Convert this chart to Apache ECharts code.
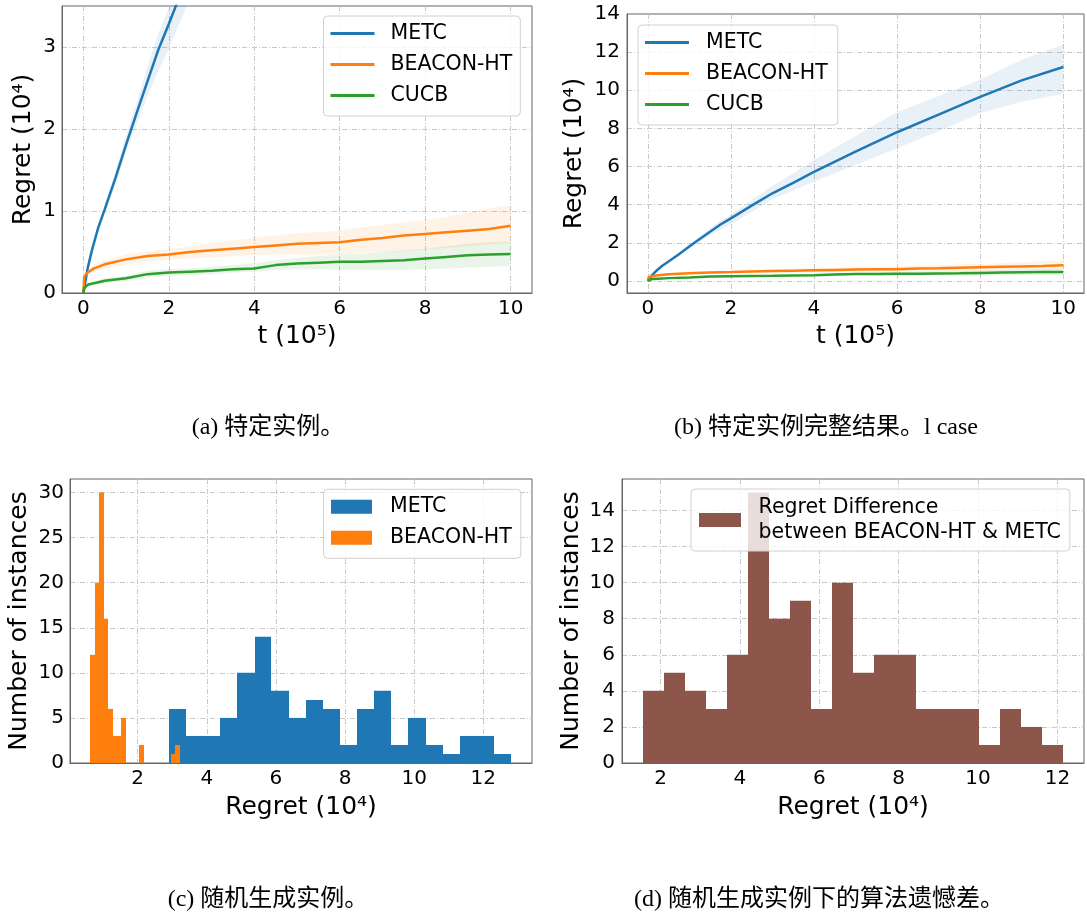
<!DOCTYPE html>
<html><head><meta charset="utf-8">
<script src="https://cdn.jsdelivr.net/npm/echarts@6/dist/echarts.min.js"></script>
<style>html,body{margin:0;padding:0;background:#fff}#main{width:1087px;height:915px}</style>
</head><body><div id="main"></div>
<script>
// ---------- (a)/(b) cumulative regret curves (t in 1e5, regret in 1e4) ----------
const metcT    = [0, 0.05, 0.1, 0.2, 0.35, 0.5, 0.75, 1, 1.25, 1.5, 1.75, 2, 2.5, 3, 3.5, 4, 5, 6, 7, 8, 9, 10];
const metcMean = [0, 0.15, 0.3, 0.52, 0.8, 1.02, 1.4, 1.81, 2.2, 2.58, 2.96, 3.28, 3.95, 4.6, 5.15, 5.72, 6.78, 7.8, 8.72, 9.65, 10.52, 11.22];
const metcLow  = [0, 0.14, 0.28, 0.49, 0.76, 0.97, 1.33, 1.72, 2.06, 2.4, 2.7, 2.98, 3.6, 4.3, 4.75, 5.22, 6.08, 6.96, 7.85, 8.8, 9.4, 9.8];
const metcHigh = [0, 0.16, 0.32, 0.55, 0.84, 1.07, 1.48, 1.92, 2.33, 2.76, 3.16, 3.48, 4.25, 5.0, 5.65, 6.35, 7.6, 8.85, 9.7, 10.55, 11.6, 12.4];

const beaconT    = [0, 0.02, 0.1, 0.25, 0.5, 1, 1.5, 2, 2.5, 3, 3.5, 4, 4.5, 5, 5.5, 6, 6.5, 7, 7.5, 8, 8.5, 9, 9.5, 10];
const beaconMean = [0, 0.2, 0.25, 0.3, 0.35, 0.41, 0.45, 0.47, 0.5, 0.52, 0.54, 0.56, 0.58, 0.6, 0.61, 0.62, 0.65, 0.67, 0.7, 0.72, 0.74, 0.76, 0.78, 0.82];
const beaconLow  = [0, 0.18, 0.22, 0.26, 0.3, 0.35, 0.38, 0.41, 0.42, 0.43, 0.45, 0.46, 0.47, 0.47, 0.47, 0.47, 0.49, 0.5, 0.51, 0.53, 0.55, 0.57, 0.59, 0.61];
const beaconHigh = [0, 0.22, 0.28, 0.34, 0.4, 0.47, 0.51, 0.53, 0.57, 0.61, 0.64, 0.67, 0.7, 0.73, 0.745, 0.76, 0.8, 0.83, 0.86, 0.89, 0.93, 0.98, 1.03, 1.07];

const cucbT    = [0, 0.02, 0.1, 0.25, 0.5, 1, 1.5, 2, 2.5, 3, 3.5, 4, 4.5, 5, 5.5, 6, 6.5, 7, 7.5, 8, 8.5, 9, 9.5, 10];
const cucbMean = [0, 0.06, 0.1, 0.12, 0.15, 0.18, 0.23, 0.25, 0.26, 0.27, 0.29, 0.3, 0.34, 0.36, 0.37, 0.38, 0.38, 0.39, 0.4, 0.42, 0.44, 0.46, 0.47, 0.475];
const cucbLow  = [0, 0.05, 0.08, 0.1, 0.12, 0.15, 0.19, 0.21, 0.22, 0.23, 0.25, 0.26, 0.28, 0.29, 0.29, 0.28, 0.28, 0.28, 0.28, 0.29, 0.3, 0.31, 0.32, 0.33];
const cucbHigh = [0, 0.07, 0.12, 0.14, 0.18, 0.21, 0.27, 0.29, 0.3, 0.32, 0.34, 0.36, 0.4, 0.43, 0.45, 0.47, 0.48, 0.5, 0.52, 0.54, 0.57, 0.6, 0.62, 0.63];

// ---------- (c) histograms of regret (1e4) ----------
const metcHistEdges  = [2.90, 3.40, 3.89, 4.39, 4.88, 5.38, 5.87, 6.37, 6.86, 7.36, 7.85, 8.35, 8.84, 9.34, 9.83, 10.33, 10.82, 11.32, 11.81, 12.31, 12.80];
const metcHistCounts = [6, 3, 3, 5, 10, 14, 8, 5, 7, 6, 2, 6, 8, 2, 5, 2, 1, 3, 3, 1];
const beaconHistEdges  = [0.63, 0.76, 0.89, 1.02, 1.15, 1.28, 1.40, 1.53, 1.66, 1.79, 1.92, 2.05, 2.18, 2.31, 2.44, 2.57, 2.69, 2.82, 2.95, 3.08, 3.21];
const beaconHistCounts = [12, 20, 30, 16, 6, 3, 3, 5, 0, 0, 0, 2, 0, 0, 0, 0, 0, 0, 1, 2];

// ---------- (d) histogram of regret difference (1e4) ----------
const diffHistEdges  = [1.56, 2.09, 2.62, 3.15, 3.68, 4.21, 4.73, 5.26, 5.79, 6.32, 6.85, 7.38, 7.91, 8.44, 8.97, 9.50, 10.02, 10.55, 11.08, 11.61, 12.14];
const diffHistCounts = [4, 5, 4, 3, 6, 15, 8, 9, 3, 10, 5, 6, 6, 3, 3, 3, 1, 3, 2, 1];

// ---------- labels ----------
const legendLines = ['METC', 'BEACON-HT', 'CUCB'];
const legendHist = ['METC', 'BEACON-HT'];
const diffName = 'Regret Difference\nbetween BEACON-HT & METC';
const captions = ['(a) 特定实例。', '(b) 特定实例完整结果。l case', '(c) 随机生成实例。', '(d) 随机生成实例下的算法遗憾差。'];
const xNameT = 't (10⁵)';
const yNameRegret = 'Regret (10⁴)';
const yNameCount = 'Number of instances';

const FONT = 'DejaVu Sans';
const C_BLUE = '#1f77b4', C_ORANGE = '#ff7f0e', C_GREEN = '#2ca02c', C_BROWN = '#8c564b';

function tickFmt(step) {
  return function (v) {
    const r = Math.round(v);
    return (Math.abs(v - r) < 1e-6 && r % step === 0) ? String(r) : '';
  };
}
function valueAxis(gridIndex, min, max, step, name, nameGap, labelMargin) {
  return {
    type: 'value', gridIndex: gridIndex, min: min, max: max,
    minInterval: step, maxInterval: step, splitNumber: 5,
    name: name, nameLocation: 'middle', nameGap: nameGap,
    nameTextStyle: { fontSize: 25, color: '#000', fontFamily: FONT },
    axisLine: { show: true, onZero: false, lineStyle: { color: '#666', width: 1 } },
    axisTick: { show: false },
    axisLabel: { fontSize: 20, color: '#000', fontFamily: FONT, margin: labelMargin, formatter: tickFmt(step) },
    splitLine: { show: true, showMinLine: false, showMaxLine: false,
      lineStyle: { color: '#c8c8c8', width: 1, type: [5, 2, 1, 2] } }
  };
}
function lineSeries(idx, name, ts, ys, color) {
  return {
    type: 'line', name: name, xAxisIndex: idx, yAxisIndex: idx,
    data: ts.map(function (t, i) { return [t, ys[i]]; }),
    symbol: 'none', showSymbol: false, clip: true, z: 3, silent: true,
    lineStyle: { color: color, width: 2.5 }, itemStyle: { color: color }
  };
}
function bandSeries(idx, name, ts, lo, hi, fill) {
  return {
    type: 'custom', name: name, xAxisIndex: idx, yAxisIndex: idx, silent: true, z: 2, clip: true,
    data: ts.map(function (t, i) { return [t, lo[i], hi[i]]; }),
    encode: { x: 0, y: [1, 2] },
    renderItem: function (params, api) {
      if (params.dataIndex !== 0) return;
      const pts = [];
      for (let i = 0; i < ts.length; i++) pts.push(api.coord([ts[i], hi[i]]));
      for (let i = ts.length - 1; i >= 0; i--) pts.push(api.coord([ts[i], lo[i]]));
      const cs = params.coordSys;
      return {
        type: 'polygon', shape: { points: pts }, style: { fill: fill },
        clipPath: { type: 'rect', shape: { x: cs.x, y: cs.y, width: cs.width, height: cs.height } }
      };
    }
  };
}
function histSeries(idx, name, edges, counts, color) {
  return {
    type: 'custom', name: name, xAxisIndex: idx, yAxisIndex: idx, silent: true, z: 2,
    itemStyle: { color: color },
    data: counts.map(function (c, i) { return [edges[i], edges[i + 1], c]; }),
    encode: { x: [0, 1], y: 2 },
    renderItem: function (params, api) {
      if (api.value(2) <= 0) return;
      const a = api.coord([api.value(0), 0]);
      const b = api.coord([api.value(1), api.value(2)]);
      const x0 = Math.round(a[0]), x1 = Math.round(b[0]);
      return { type: 'rect', shape: { x: x0, y: b[1], width: x1 - x0, height: a[1] - b[1] },
        style: { fill: color } };
    }
  };
}
function legendBox(opt) {
  return Object.assign({
    orient: 'vertical', icon: 'rect', itemGap: 0, selectedMode: false,
    itemStyle: { borderWidth: 0 },
    borderColor: '#d0d0d0', borderWidth: 1, borderRadius: 4,
    backgroundColor: 'rgba(255,255,255,0.8)', z: 10
  }, opt);
}
const gridStyle = { show: true, borderColor: '#666', borderWidth: 1, backgroundColor: 'transparent' };
const capFont = '24px "Liberation Serif", "Noto Sans CJK SC", serif';
function caption(text, x, y) {
  return { type: 'text', x: x, y: y, silent: true,
    style: { text: text, font: capFont, fill: '#000', textAlign: 'center', textVerticalAlign: 'middle', align: 'center', verticalAlign: 'middle' } };
}

const option = {
  animation: false,
  backgroundColor: '#fff',
  grid: [
    Object.assign({ left: 62, top: 6, width: 470, height: 287 }, gridStyle),
    Object.assign({ left: 627, top: 14, width: 459, height: 279 }, gridStyle),
    Object.assign({ left: 70, top: 479, width: 462, height: 284 }, gridStyle),
    Object.assign({ left: 622, top: 479, width: 464, height: 284 }, gridStyle)
  ],
  xAxis: [
    valueAxis(0, -0.5, 10.5, 2, xNameT, 31, 6),
    valueAxis(1, -0.5, 10.5, 2, xNameT, 31, 6),
    valueAxis(2, 0.04, 13.41, 2, yNameRegret, 32, 6),
    valueAxis(3, 1.03, 12.67, 2, yNameRegret, 32, 6)
  ],
  yAxis: [
    valueAxis(0, 0, 3.5, 1, yNameRegret, 26, 6),
    valueAxis(1, -0.63, 14, 2, yNameRegret, 40, 7),
    valueAxis(2, 0, 31.5, 5, yNameCount, 38, 6),
    valueAxis(3, 0, 15.75, 2, yNameCount, 38, 7)
  ],
  legend: [
    legendBox({ left: 323.5, top: 16, data: legendLines, itemWidth: 44, itemHeight: 3, padding: [2, 8, 5, 7],
      textStyle: { fontSize: 20.5, fontFamily: FONT, color: '#000', lineHeight: 31, padding: [0, 0, 0, 11] } }),
    legendBox({ left: 638, top: 25, data: legendLines, itemWidth: 44, itemHeight: 3, padding: [2, 10, 5, 7],
      textStyle: { fontSize: 20.5, fontFamily: FONT, color: '#000', lineHeight: 31, padding: [0, 0, 0, 12] } }),
    legendBox({ left: 323.5, top: 489.3, data: legendHist, itemWidth: 41, itemHeight: 14, padding: [2, 9, 5, 7.5],
      textStyle: { fontSize: 20.5, fontFamily: FONT, color: '#000', lineHeight: 31, padding: [0, 0, 0, 13] } }),
    legendBox({ left: 691, top: 489, data: [diffName], itemWidth: 42, itemHeight: 14, padding: [6, 9, 6, 8],
      textStyle: { fontSize: 20.5, fontFamily: FONT, color: '#000', lineHeight: 25, padding: [0, 0, 0, 12.6] } })
  ],
  series: [
    // (a)
    bandSeries(0, 'METC band a', metcT, metcLow, metcHigh, 'rgba(31,119,180,0.1)'),
    bandSeries(0, 'BEACON band a', beaconT, beaconLow, beaconHigh, 'rgba(255,127,14,0.1)'),
    bandSeries(0, 'CUCB band a', cucbT, cucbLow, cucbHigh, 'rgba(44,160,44,0.1)'),
    lineSeries(0, 'METC', metcT, metcMean, C_BLUE),
    lineSeries(0, 'BEACON-HT', beaconT, beaconMean, C_ORANGE),
    lineSeries(0, 'CUCB', cucbT, cucbMean, C_GREEN),
    // (b)
    bandSeries(1, 'METC band b', metcT, metcLow, metcHigh, 'rgba(31,119,180,0.1)'),
    bandSeries(1, 'BEACON band b', beaconT, beaconLow, beaconHigh, 'rgba(255,127,14,0.1)'),
    bandSeries(1, 'CUCB band b', cucbT, cucbLow, cucbHigh, 'rgba(44,160,44,0.1)'),
    lineSeries(1, 'METC', metcT, metcMean, C_BLUE),
    lineSeries(1, 'BEACON-HT', beaconT, beaconMean, C_ORANGE),
    lineSeries(1, 'CUCB', cucbT, cucbMean, C_GREEN),
    // (c)
    histSeries(2, 'METC', metcHistEdges, metcHistCounts, C_BLUE),
    histSeries(2, 'BEACON-HT', beaconHistEdges, beaconHistCounts, C_ORANGE),
    // (d)
    histSeries(3, diffName, diffHistEdges, diffHistCounts, C_BROWN)
  ],
  graphic: [
    caption(captions[0], 268, 428),
    caption(captions[1], 826, 428),
    caption(captions[2], 268, 900),
    caption(captions[3], 819, 900)
  ]
};
const chart = echarts.init(document.getElementById('main'), null, { renderer: 'canvas', width: 1087, height: 915 });
chart.setOption(option);
</script>
</body></html>
